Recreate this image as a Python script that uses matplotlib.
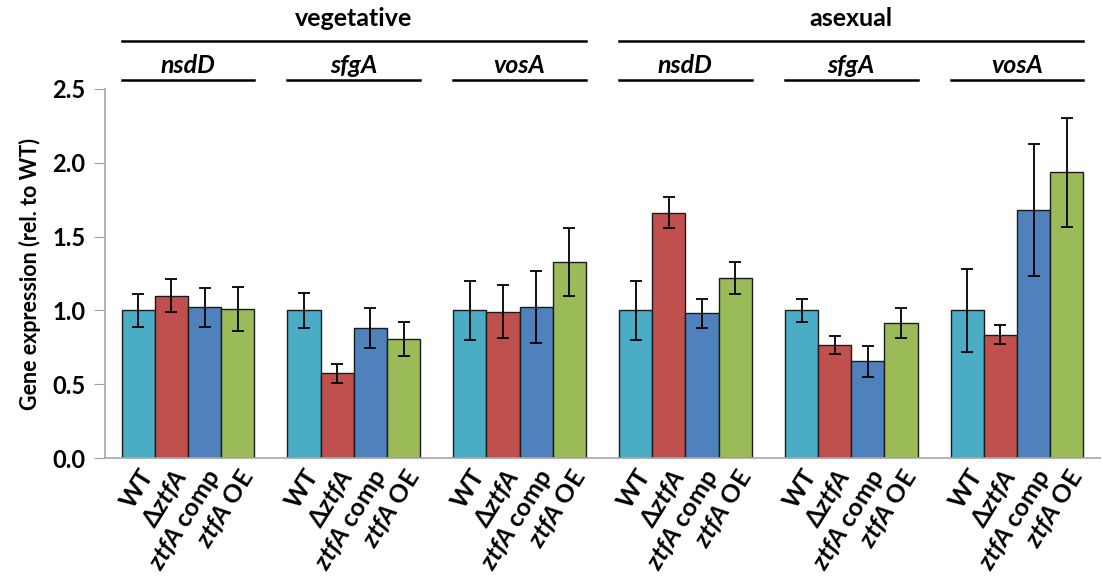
import numpy as np
import matplotlib
import matplotlib.pyplot as plt
from matplotlib.transforms import blended_transform_factory

# Fonts: bold, Calibri-like look
matplotlib.rcParams['font.family'] = ['Lato', 'DejaVu Sans']
matplotlib.rcParams['mathtext.fontset'] = 'custom'
matplotlib.rcParams['mathtext.it'] = 'Lato:italic:bold'
matplotlib.rcParams['mathtext.rm'] = 'Lato:bold'
matplotlib.rcParams['mathtext.bf'] = 'Lato:bold'

# Data
stages = ["vegetative", "asexual"]
genes = ["nsdD", "sfgA", "vosA", "nsdD", "sfgA", "vosA"]
strains = ["WT", r"Δ$\it{ztfA}$", r"$\it{ztfA}$ comp", r"$\it{ztfA}$ OE"]
colors = ["#4BACC6", "#C0504D", "#4F81BD", "#9BBB59"]

wt = [1.00, 1.00, 1.00, 1.00, 1.00, 1.00]
wt_err = [0.11, 0.12, 0.20, 0.20, 0.08, 0.28]
dztfa = [1.10, 0.575, 0.99, 1.66, 0.765, 0.835]
dztfa_err = [0.11, 0.065, 0.18, 0.105, 0.062, 0.063]
comp = [1.02, 0.88, 1.025, 0.98, 0.655, 1.68]
comp_err = [0.135, 0.135, 0.245, 0.10, 0.105, 0.45]
oe = [1.01, 0.805, 1.325, 1.22, 0.915, 1.935]
oe_err = [0.15, 0.117, 0.23, 0.11, 0.10, 0.37]

series = [wt, dztfa, comp, oe]
errors = [wt_err, dztfa_err, comp_err, oe_err]

fig = plt.figure(figsize=(11.03, 5.79), dpi=100)
ax = fig.add_axes([105/1103, 1 - 458/579, (1100 - 105)/1103, (458 - 89)/579])

n_groups = len(genes)
group_w = 5
ticks = []
labels = []
for i, (vals, errs) in enumerate(zip(series, errors)):
    x = np.arange(n_groups)*group_w + 1 + i
    ax.bar(x, vals, width=1.0, color=colors[i], edgecolor="#1a1a1a", linewidth=1.0,
           yerr=errs, error_kw=dict(ecolor="black", elinewidth=1.3, capsize=4.5, capthick=1.3))
    ticks.extend(x)
    labels.extend([strains[i]]*n_groups)

ax.set_xlim(0, n_groups*group_w)
ax.set_ylim(0, 2.5)
ax.set_yticks(np.arange(0, 2.51, 0.5))
ax.set_yticklabels(["%.1f" % v for v in np.arange(0, 2.51, 0.5)], fontsize=17, fontweight="bold")
ax.set_xticks(ticks)
ax.set_xticklabels(labels, rotation=58, ha="right", va="top", rotation_mode="anchor",
                   fontsize=18, fontweight="bold")
ax.tick_params(axis="x", length=0, pad=5)
ax.tick_params(axis="y", length=8, color="#a0a0a0", direction="out", pad=6)

for s in ["top", "right"]:
    ax.spines[s].set_visible(False)
for s in ["left", "bottom"]:
    ax.spines[s].set_color("#a6a6a6")
    ax.spines[s].set_linewidth(1.2)

ax.set_ylabel("Gene expression (rel. to WT)", fontsize=15.5, fontweight="bold", labelpad=8)

# Group headers above the plot
tr = blended_transform_factory(ax.transData, ax.transAxes)
for g, gene in enumerate(genes):
    x0 = g*group_w + 0.5
    x1 = g*group_w + 4.5
    ax.plot([x0, x1], [1.024, 1.024], color="black", lw=1.8, transform=tr, clip_on=False)
    ax.text((x0 + x1)/2, 1.043, gene, transform=tr, ha="center", va="baseline",
            fontsize=18, fontweight="bold", fontstyle="italic")

for k, stage in enumerate(stages):
    x0 = k*3*group_w + 0.5
    x1 = (k*3 + 2)*group_w + 4.5
    ax.plot([x0, x1], [1.130, 1.130], color="black", lw=1.8, transform=tr, clip_on=False)
    ax.text((x0 + x1)/2, 1.171, stage, transform=tr, ha="center", va="baseline",
            fontsize=18, fontweight="bold")

plt.savefig("out.png", dpi=100)
